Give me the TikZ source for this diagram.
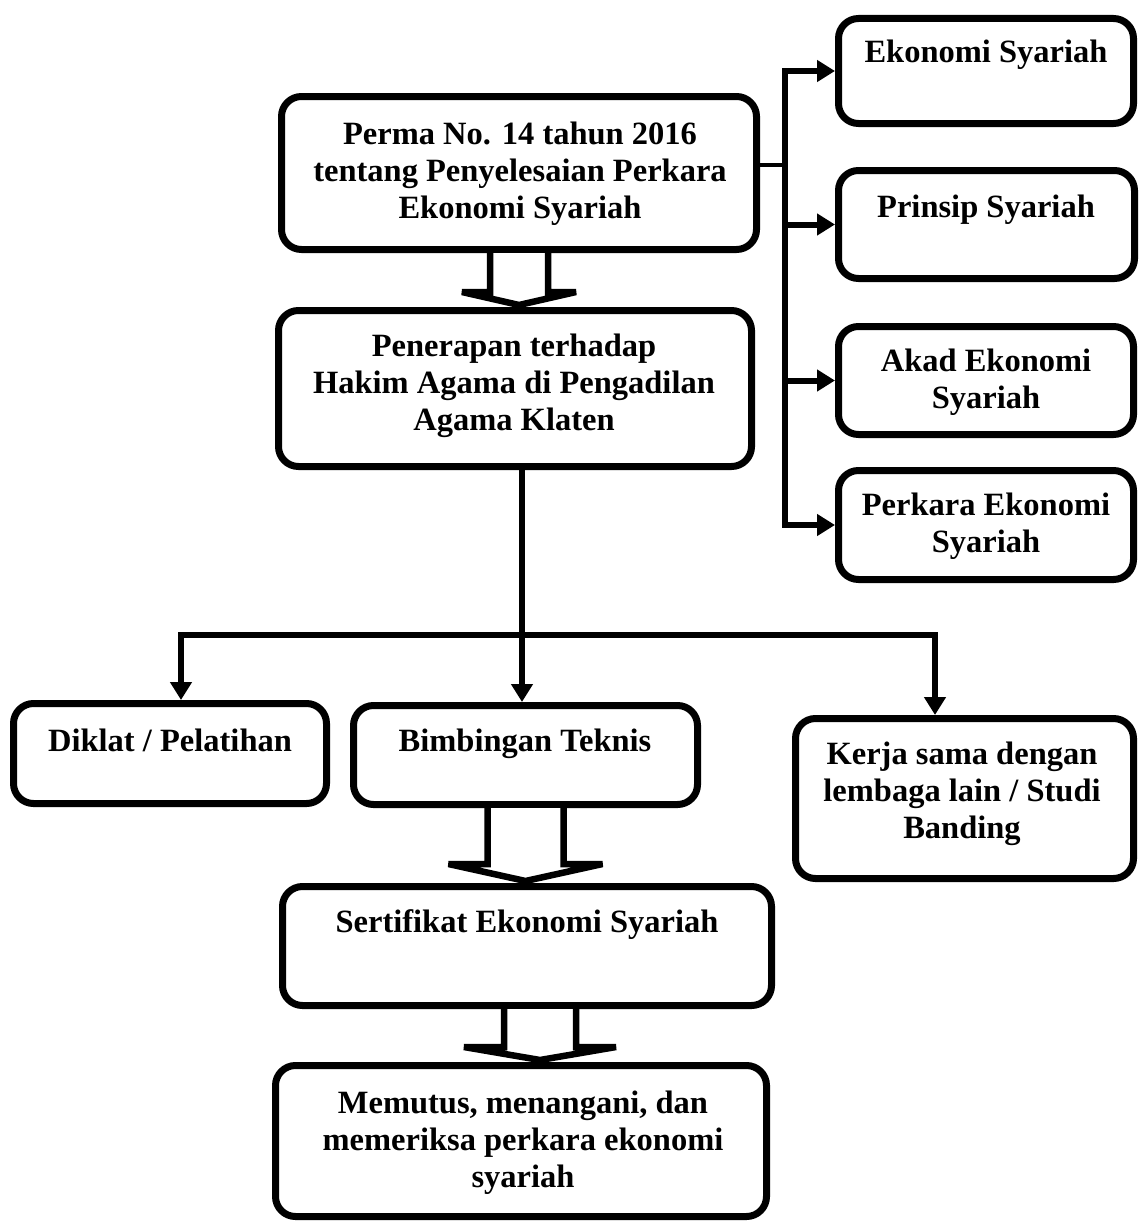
\documentclass[tikz,border=0pt]{standalone}
\usepackage{fontspec}
\setmainfont{Liberation Serif}
\usetikzlibrary{arrows.meta,calc}
\begin{document}
\begin{tikzpicture}[x=1pt,y=-1pt,
  box/.style={draw, line width=7pt, rounded corners=20pt, fill=white, inner sep=0pt},
  txt/.style={font=\fontsize{32.5}{37}\selectfont\bfseries, align=center, anchor=base, inner sep=0pt},
  arr/.style={line width=6pt, -{Triangle[length=18pt,width=21pt]}},
  conn/.style={line width=6pt},
  barrow/.style={draw, line width=6.5pt, fill=white, line join=miter, miter limit=1.6}]
\useasboundingbox (0,0) rectangle (1139,1223);

% boxes
\node[box, minimum width=475pt, minimum height=153pt] (p) at (519,173) {};
\node[box, minimum width=295pt, minimum height=105pt] (e1) at (986,71) {};
\node[box, minimum width=296pt, minimum height=108pt] (e2) at (986.5,224.5) {};
\node[box, minimum width=295pt, minimum height=108pt] (e3) at (986,380.5) {};
\node[box, minimum width=295pt, minimum height=109pt] (e4) at (986,525) {};
\node[box, minimum width=473pt, minimum height=156pt] (q) at (515,388.5) {};
\node[box, minimum width=313pt, minimum height=100pt] (d) at (170,753.5) {};
\node[box, minimum width=344pt, minimum height=99pt] (b) at (525.5,755) {};
\node[box, minimum width=338pt, minimum height=160pt] (k) at (964.5,798.5) {};
\node[box, minimum width=489pt, minimum height=119pt] (s) at (527,946) {};
\node[box, minimum width=491pt, minimum height=151pt] (m) at (521,1141) {};

% texts (anchor = baseline of the last line)
\node[txt] (tp) at (520,218) {Perma No. 14 tahun 2016\\tentang Penyelesaian Perkara\\Ekonomi Syariah};
\node[txt] (te1) at (986,63) {Ekonomi Syariah};
\node[txt] (te2) at (986,217) {Prinsip Syariah};
\node[txt] (te3) at (986,408) {Akad Ekonomi\\Syariah};
\node[txt] (te4) at (986,552) {Perkara Ekonomi\\Syariah};
\node[txt] (tq) at (514,430) {Penerapan terhadap\\Hakim Agama di Pengadilan\\Agama Klaten};
\node[txt] (td) at (170,751) {Diklat / Pelatihan};
\node[txt] (tb) at (525,751) {Bimbingan Teknis};
\node[txt] (tk) at (962,838) {Kerja sama dengan\\lembaga lain / Studi\\Banding};
\node[txt] (ts) at (527,932) {Sertifikat Ekonomi Syariah};
\node[txt] (tm) at (523,1187) {Memutus, menangani, dan\\memeriksa perkara ekonomi\\syariah};

% block arrows
\draw[barrow] ($(p.south)+(-29,0)$) -- ($(p.south |- q.north)+(-29,-15)$)
  -- ($(p.south |- q.north)+(-57,-15)$) -- ($(p.south |- q.north)+(0,-2)$)
  -- ($(p.south |- q.north)+(57,-15)$) -- ($(p.south |- q.north)+(29,-15)$)
  -- ($(p.south)+(29,0)$);
\draw[barrow] ($(b.south)+(-38,0)$) -- ($(b.south |- s.north)+(-38,-19)$)
  -- ($(b.south |- s.north)+(-77,-19)$) -- ($(b.south |- s.north)+(0,-2)$)
  -- ($(b.south |- s.north)+(77,-19)$) -- ($(b.south |- s.north)+(38,-19)$)
  -- ($(b.south)+(38,0)$);
\draw[barrow] ($(s.south)+(-23,0)$) -- ($(s.south |- m.north)+(-23,-15)$)
  -- ($(s.south |- m.north)+(-63,-15)$) -- ($(s.south |- m.north)+(13,-2)$)
  -- ($(s.south |- m.north)+(89,-15)$) -- ($(s.south |- m.north)+(49,-15)$)
  -- ($(s.south)+(49,0)$);

% right bus
\coordinate (bt) at (785,0);
\coordinate (pj) at (785,165);
\draw[conn, line cap=rect] (bt |- e1.west) -- (bt |- e4.west);
\draw[line width=3.5pt] (pj -| p.east) -- (pj);
\draw[arr] (bt |- e1.west) -- (e1.west);
\draw[arr] (bt |- e2.west) -- (e2.west);
\draw[arr] (bt |- e3.west) -- (e3.west);
\draw[arr] (bt |- e4.west) -- (e4.west);

% bottom fan
\coordinate (j) at (522,635);
\coordinate (jl) at (181,635);
\coordinate (jr) at (935,635);
\draw[conn] (j |- q.south) -- (j);
\draw[conn, line cap=rect] (jl) -- (jr);
\draw[arr] (jl) -- (jl |- d.north);
\draw[arr] (j) -- (j |- b.north);
\draw[arr] (jr) -- (jr |- k.north);
\end{tikzpicture}
\end{document}
